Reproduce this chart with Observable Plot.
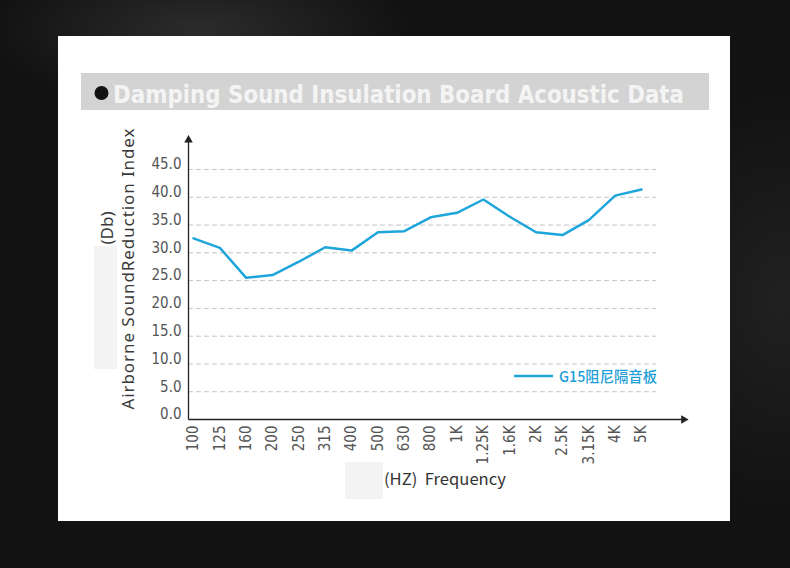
<!DOCTYPE html>
<html>
<head>
<meta charset="utf-8">
<script src="https://cdn.jsdelivr.net/npm/d3@7"></script>
<script src="https://cdn.jsdelivr.net/npm/@observablehq/plot@0.6"></script>
<style>
  html, body { margin: 0; padding: 0; }
  body {
    width: 790px; height: 568px; overflow: hidden; position: relative;
    background:
      radial-gradient(ellipse 300px 110px at 200px 30px, rgba(75,75,75,0.45), rgba(0,0,0,0) 70%),
      radial-gradient(ellipse 200px 300px at 780px 300px, rgba(60,60,60,0.35), rgba(0,0,0,0) 70%),
      #121212;
  }
  #panel { position: absolute; left: 58px; top: 36px; width: 672px; height: 485px; background: #ffffff; }
  #titlebar { position: absolute; left: 81px; top: 73px; width: 628px; height: 37px; background: #d3d3d3; }
  .shade { position: absolute; background: #f3f3f3; }
  #chart { position: absolute; left: 0; top: 0; }
  #overlay { position: absolute; left: 0; top: 0; }
</style>
</head>
<body>
<div id="panel"></div>
<div id="titlebar"></div>
<div class="shade" style="left:94px;top:246px;width:23px;height:123px;"></div>
<div class="shade" style="left:345px;top:462px;width:38px;height:37px;"></div>
<div id="chart"></div>
<svg id="overlay" width="790" height="568" xmlns="http://www.w3.org/2000/svg">
  <circle cx="101.5" cy="93" r="7" fill="#111"></circle>
  <text x="113" y="103" font-family="'DejaVu Sans Condensed', 'DejaVu Sans', sans-serif" font-weight="bold" font-size="24" fill="#f4f4f4" textLength="571" lengthAdjust="spacingAndGlyphs">Damping Sound Insulation Board Acoustic Data</text>
  <text transform="translate(134,269) rotate(-90)" text-anchor="middle" font-family="'Noto Sans', sans-serif" font-size="17" fill="#3a3a3a" textLength="281" lengthAdjust="spacing">Airborne SoundReduction Index</text>
  <text transform="translate(113,228) rotate(-90)" text-anchor="middle" font-family="'Noto Sans', sans-serif" font-size="17" fill="#3a3a3a">(Db)</text>
  <text x="384" y="485" font-family="'Noto Sans CJK SC', 'Noto Sans', sans-serif" font-size="16" fill="#333" textLength="122" lengthAdjust="spacingAndGlyphs" style="white-space:pre">(HZ)  Frequency</text>
  <line x1="514" y1="376" x2="553" y2="376" stroke="#1ea6db" stroke-width="2.5"></line>
  <text x="559" y="382" font-family="'Noto Sans CJK SC', sans-serif" font-weight="500" font-size="15" fill="#1e9fd6" textLength="98" lengthAdjust="spacingAndGlyphs">G15阻尼隔音板</text>
</svg>
<script>
// Frequency bands (x categories)
const freqs = ["100","125","160","200","250","315","400","500","630","800","1K","1.25K","1.6K","2K","2.5K","3.15K","4K","5K"];
// Sound reduction index (dB) for G15阻尼隔音板
const values = [32.6, 30.9, 25.5, 26.0, 28.4, 31.0, 30.4, 33.7, 33.9, 36.4, 37.2, 39.6, 36.5, 33.7, 33.2, 35.9, 40.3, 41.4];
// Y tick labels / gridlines
const yTicks = [0, 5, 10, 15, 20, 25, 30, 35, 40, 45];
const gridTicks = [5, 10, 15, 20, 25, 30, 35, 40, 45];
// axis extents (in data units) for the arrowed axis lines
const xAxisStart = -0.19;
const xAxisEnd = 18.6;
const yAxisEnd = 50.3;

const idx = freqs.map((f, i) => i);
const lineColor = "#1ea6db";
const axisColor = "#222";

const plot = Plot.plot({
  width: 790,
  height: 568,
  marginLeft: 188,
  marginRight: 134,
  marginTop: 139,
  marginBottom: 149,
  style: { background: "transparent", fontFamily: "'Liberation Sans Narrow', 'DejaVu Sans Condensed', sans-serif", fontSize: "15px", color: "#555" },
  x: { type: "linear", domain: [0, freqs.length - 1], range: [193, 641], label: null },
  y: { type: "linear", domain: [0, 45], range: [419, 169], label: null },
  marks: [
    Plot.ruleY(gridTicks, { stroke: "#c4c4c4", strokeWidth: 1, strokeDasharray: "5,3" }),
    Plot.axisY(yTicks, { tickSize: 0, tickPadding: 7, dy: -5, tickFormat: d => d.toFixed(1), fill: "#555", fontSize: 15, label: null }),
    Plot.axisX(idx, { tickSize: 0, tickPadding: 6, tickRotate: -90, tickFormat: i => freqs[i], fill: "#555", fontSize: 15, label: null }),
    Plot.link([0], { x1: xAxisStart, y1: 0, x2: xAxisEnd, y2: 0, stroke: axisColor, strokeWidth: 1.3 }),
    Plot.link([0], { x1: xAxisStart, y1: 0, x2: xAxisStart, y2: yAxisEnd, stroke: axisColor, strokeWidth: 1.3 }),
    Plot.dot([0], { x: xAxisStart, y: yAxisEnd, symbol: "triangle", r: 3.2, fill: axisColor, stroke: null }),
    Plot.dot([0], { x: xAxisEnd, y: 0, symbol: "triangle", r: 3.2, rotate: 90, fill: axisColor, stroke: null }),
    Plot.line(idx, { x: i => i, y: i => values[i], stroke: lineColor, strokeWidth: 2.5, strokeLinejoin: "miter" })
  ]
});
document.getElementById("chart").appendChild(plot);
</script>
</body>
</html>
